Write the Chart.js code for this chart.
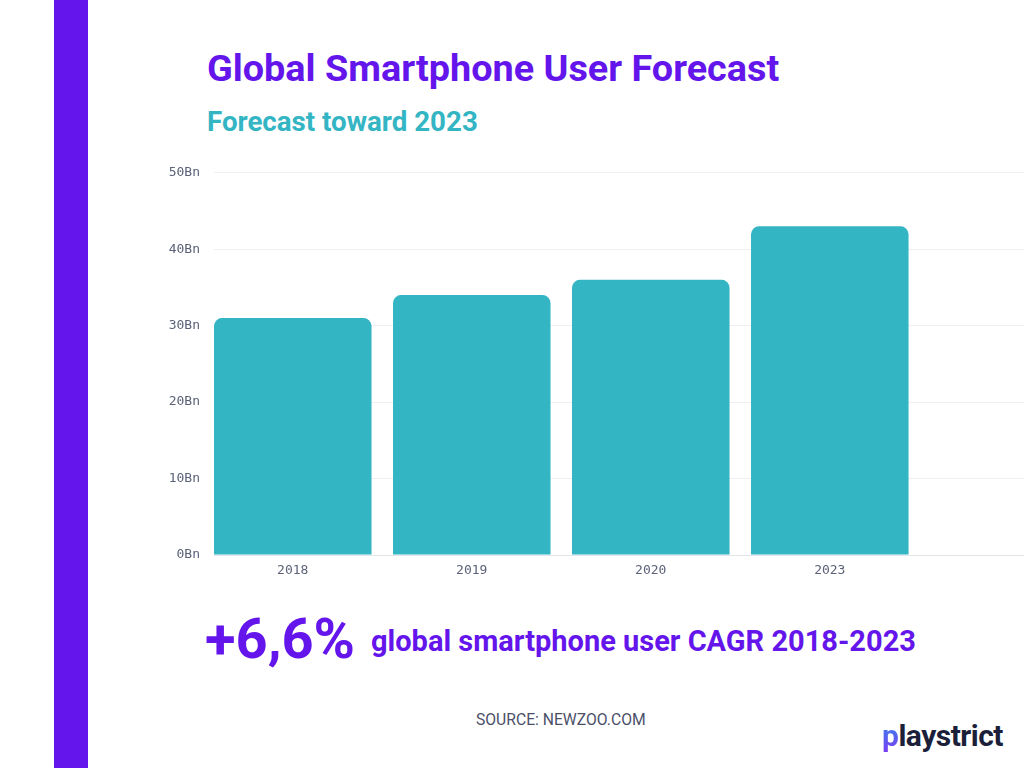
<!DOCTYPE html>
<html>
<head>
<meta charset="utf-8">
<script src="https://cdn.jsdelivr.net/npm/chart.js@4"></script>
<style>
  html, body { margin: 0; padding: 0; background: #fff; }
  body { width: 1024px; height: 768px; overflow: hidden; position: relative; font-family: Roboto, sans-serif; }
  .stripe { position: absolute; left: 54px; top: 0; width: 34px; height: 768px; background: #6415eb; }
  .title { position: absolute; left: 207px; top: 46px; font-size: 37.8px; font-weight: 700; color: #6415eb; white-space: nowrap; }
  .subtitle { position: absolute; left: 207px; top: 105px; font-size: 27.7px; font-weight: 700; color: #33b5c4; white-space: nowrap; }
  #wrap { position: absolute; left: 150px; top: 151px; width: 874px; height: 434px; }
  .cagr { position: absolute; left: 205px; top: 606px; white-space: nowrap; color: #6415eb; font-weight: 700; }
  .cagr .big { font-size: 56px; }
  .cagr .small { font-size: 29px; margin-left: 16px; position: relative; top: -7px; }
  .source { position: absolute; left: 476px; top: 710px; font-size: 15.7px; color: #4b5068; white-space: nowrap; }
  .logo { position: absolute; left: 882px; top: 718px; font-size: 30px; font-weight: 700; color: #1c1f3a; letter-spacing: -0.5px; white-space: nowrap; }
  .logo .p { background: linear-gradient(180deg, #2f8cf0, #7b3cf0); -webkit-background-clip: text; background-clip: text; color: transparent; }
</style>
</head>
<body>
<div class="stripe"></div>
<div class="title">Global Smartphone User Forecast</div>
<div class="subtitle">Forecast toward 2023</div>
<div id="wrap"><canvas id="chart"></canvas></div>
<div class="cagr"><span class="big">+6,6%</span><span class="small">global smartphone user CAGR 2018-2023</span></div>
<div class="source">SOURCE: NEWZOO.COM</div>
<div class="logo"><span class="p">p</span>laystrict</div>

<script>
// Chart data
const years = ["2018", "2019", "2020", "2023"];
const users = [31, 34, 36, 43];   // billions
const yTicks = [0, 10, 20, 30, 40, 50];

// bars sit on slot indexes 0..3 of a linear x axis
const points = years.map((year, i) => ({ x: i, y: users[i] }));

const ctx = document.getElementById("chart").getContext("2d");

new Chart(ctx, {
    type: "bar",
    data: {
        datasets: [{
            label: "Smartphone users",
            data: points,
            backgroundColor: "#33b5c4",
            borderRadius: 8,
            borderSkipped: "bottom",
            categoryPercentage: 1,
            barPercentage: 0.88
        }]
    },
    options: {
        responsive: true,
        maintainAspectRatio: false,
        animation: false,
        layout: { padding: { top: 3, right: 0, bottom: 0, left: 0 } },
        plugins: {
            legend: { display: false },
            tooltip: { enabled: false }
        },
        scales: {
            x: {
                type: "linear",
                offset: false,
                min: -0.44,
                max: 4.085,
                afterBuildTicks: (scale) => { scale.ticks = years.map((y, i) => ({ value: i })); },
                grid: { display: false, drawTicks: false },
                border: { display: true, color: "#e2e4e8" },
                ticks: {
                    padding: 8,
                    color: "#5c6278",
                    font: { family: "'DejaVu Sans Mono', monospace", size: 13 },
                    callback: (v) => years[v] || ""
                },
                afterFit: (scale) => { scale.height = 30; }
            },
            y: {
                min: 0,
                max: 50,
                afterBuildTicks: (scale) => { scale.ticks = yTicks.map(v => ({ value: v })); },
                grid: { color: "#efeff2", drawTicks: false },
                border: { display: false },
                ticks: {
                    padding: 14,
                    color: "#5c6278",
                    font: { family: "'DejaVu Sans Mono', monospace", size: 13 },
                    callback: (v) => v + "Bn"
                },
                afterFit: (scale) => { scale.width = 64; }
            }
        }
    }
});
</script>
</body>
</html>
